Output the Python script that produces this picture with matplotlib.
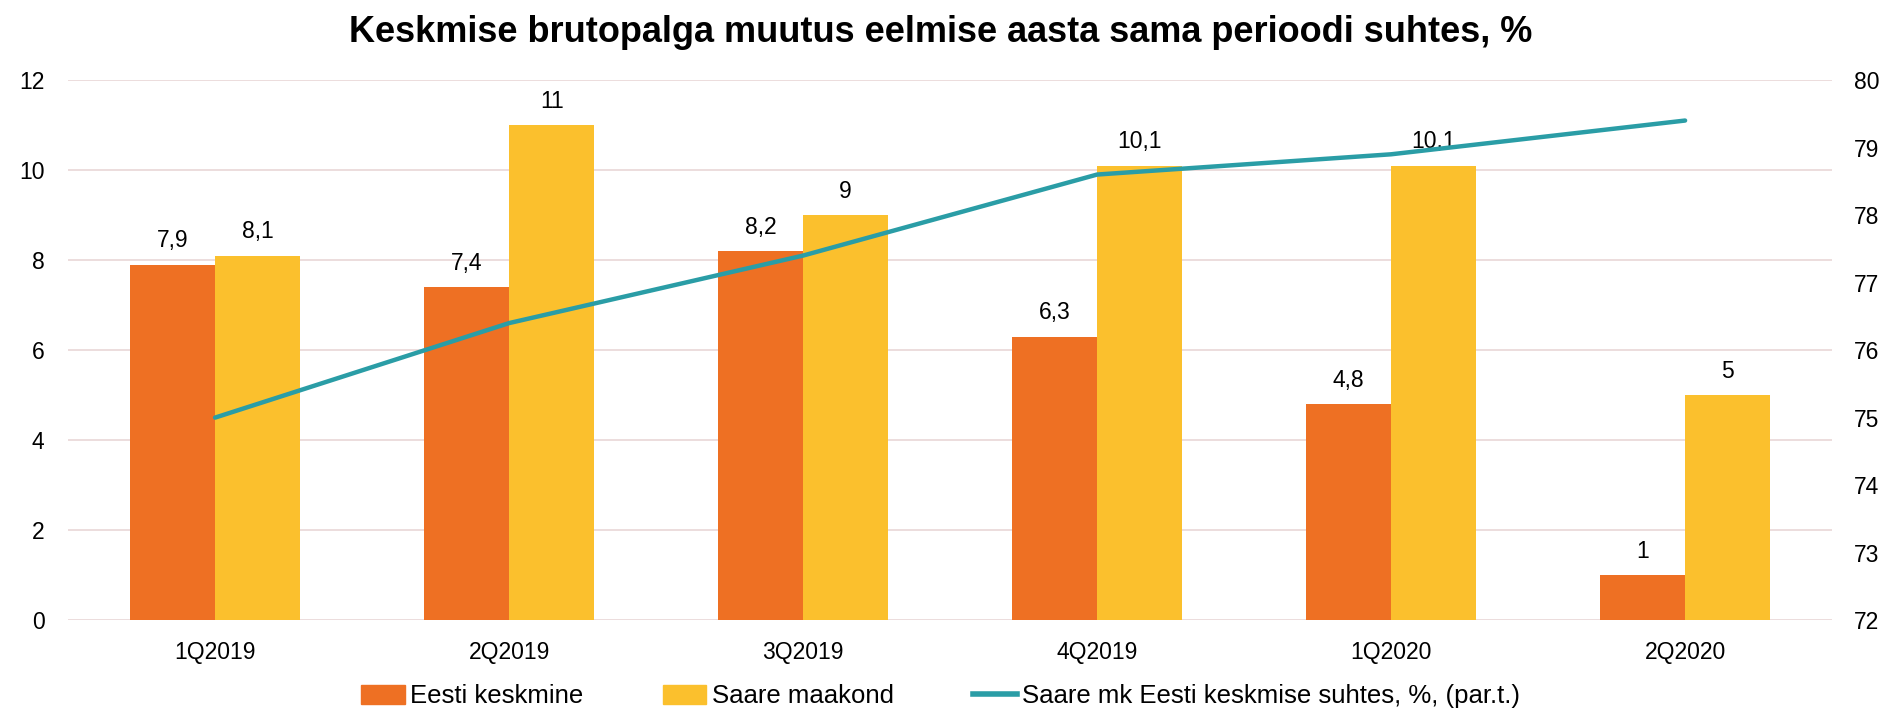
import matplotlib.pyplot as plt
from matplotlib.patches import Patch
from matplotlib.lines import Line2D
import numpy as np

plt.rcParams['font.family'] = ['Liberation Sans', 'DejaVu Sans']

# andmed
kvartalid = ['1Q2019', '2Q2019', '3Q2019', '4Q2019', '1Q2020', '2Q2020']
eesti_keskmine = [7.9, 7.4, 8.2, 6.3, 4.8, 1.0]
saare_maakond = [8.1, 11.0, 9.0, 10.1, 10.1, 5.0]
saare_vs_eesti = [75.0, 76.4, 77.4, 78.6, 78.9, 79.4]

c_orange = '#EE7023'
c_yellow = '#FBC02D'
c_teal = '#2A9DA6'
c_grid = '#EBDADA'
fs = 16.5

fig = plt.figure(figsize=(18.81, 7.12), dpi=100)
ax = fig.add_axes([0.0362, 0.129, 0.9378, 0.7586])
ax2 = ax.twinx()

x = np.arange(len(kvartalid))
w = 0.29
b1 = ax.bar(x - w / 2, eesti_keskmine, w, color=c_orange, zorder=2)
b2 = ax.bar(x + w / 2, saare_maakond, w, color=c_yellow, zorder=2)

def fmt(v):
    # eesti formaat: koma kümnendmärgina
    return f'{v:g}'.replace('.', ',')

for bars, vals in [(b1, eesti_keskmine), (b2, saare_maakond)]:
    for bar, v in zip(bars, vals):
        ax.annotate(fmt(v), (bar.get_x() + bar.get_width() / 2, v),
                    xytext=(0, 9), textcoords='offset points',
                    ha='center', va='bottom', fontsize=fs, zorder=3)

ax2.plot(x, saare_vs_eesti, color=c_teal, lw=3.2, solid_capstyle='round')

ax.set_xlim(-0.5, len(kvartalid) - 0.5)
ax.set_ylim(0, 12)
ax.set_yticks(range(0, 13, 2))
ax2.set_ylim(72, 80)
ax2.set_yticks(range(72, 81))

ax.set_xticks(x)
ax.set_xticklabels(kvartalid)
ax.yaxis.grid(True, color=c_grid, lw=1.3, zorder=0)
ax.set_axisbelow(True)

for a in (ax, ax2):
    for s in a.spines.values():
        s.set_visible(False)
ax.tick_params(axis='y', length=0, pad=17, labelsize=fs)
ax.tick_params(axis='x', length=0, pad=15, labelsize=fs)
ax2.tick_params(axis='y', length=0, pad=16, labelsize=fs)

fig.suptitle('Keskmise brutopalga muutus eelmise aasta sama perioodi suhtes, %',
             fontsize=26, fontweight='bold', x=0.5, y=0.955, va='center')

handles = [Patch(color=c_orange), Patch(color=c_yellow),
           Line2D([], [], color=c_teal, lw=4)]
labels = ['Eesti keskmine', 'Saare maakond', 'Saare mk Eesti keskmise suhtes, %, (par.t.)']
fig.legend(handles, labels, loc='center', bbox_to_anchor=(0.5, 0.022), ncol=3,
           frameon=False, fontsize=18.5, handlelength=1.7, handleheight=0.8,
           handletextpad=0.2, columnspacing=3.1, borderpad=0.1)

fig.savefig('out.png', dpi=100)
